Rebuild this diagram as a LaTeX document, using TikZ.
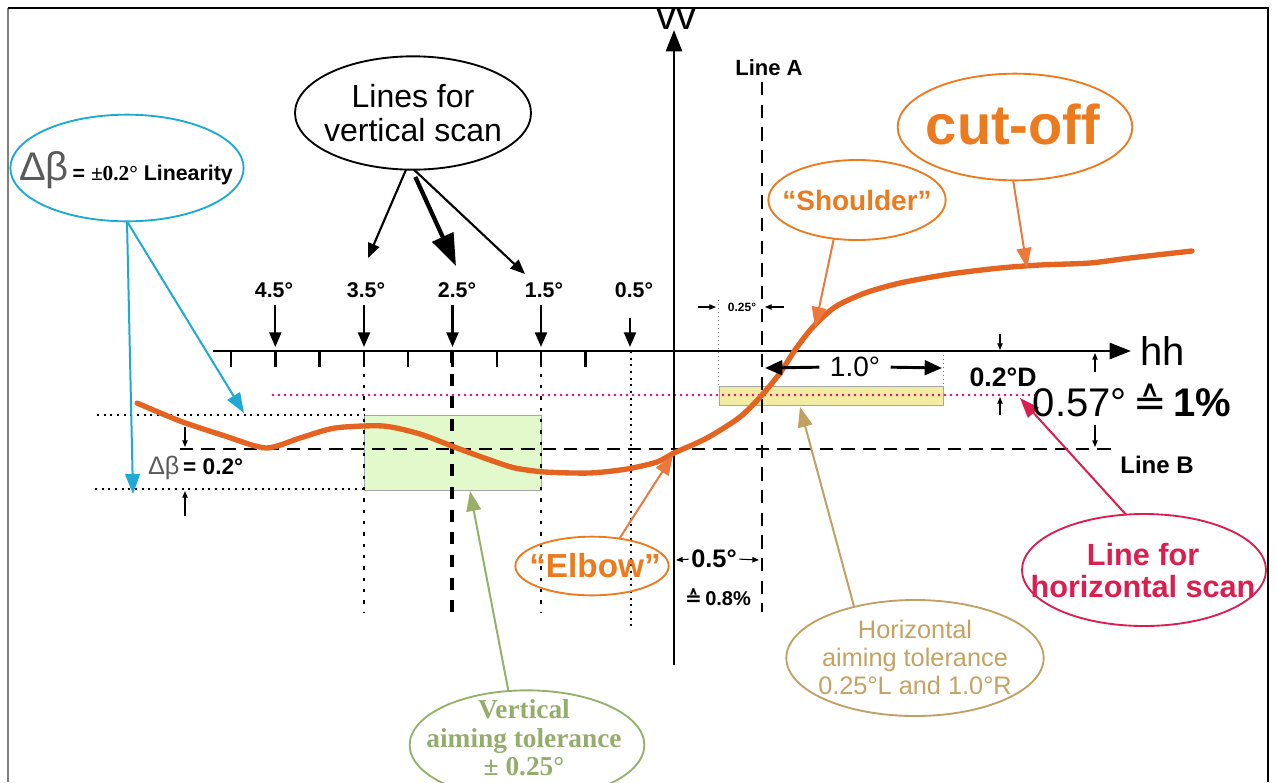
\documentclass[tikz,border=0pt]{standalone}
\usepackage{fontspec}
\setmainfont{Liberation Sans}
\newfontfamily\serifface{Liberation Serif}
\newfontfamily\dvface{DejaVu Sans}
\usetikzlibrary{arrows.meta,shapes.geometric}
\newcommand\fsz[2]{\fontsize{#1}{#2}\selectfont}
\definecolor{curveor}{RGB}{228,99,32}
\definecolor{txtor}{RGB}{236,122,30}
\definecolor{arror}{RGB}{236,120,60}
\definecolor{cyanb}{RGB}{30,170,212}
\definecolor{greenb}{RGB}{150,176,106}
\definecolor{greentxt}{RGB}{148,172,108}
\definecolor{greenfill}{RGB}{226,250,203}
\definecolor{tanb}{RGB}{192,161,99}
\definecolor{tantxt}{RGB}{196,162,98}
\definecolor{crim}{RGB}{218,30,80}
\definecolor{mag}{RGB}{229,0,125}
\definecolor{yelfill}{RGB}{242,236,162}
\definecolor{dbgray}{RGB}{90,90,90}
\begin{document}
\begin{tikzpicture}[x=0.75pt,y=-0.75pt,
  every node/.style={inner sep=0pt, outer sep=0pt},
  bubble/.style={ellipse, draw, line width=1.4pt, inner sep=0pt},
  blk/.style={-{Triangle[length=11pt,width=9pt]}, line width=1.6pt},
  sml/.style={-{Triangle[length=5pt,width=4pt]}, line width=0.8pt},
  axisline/.style={line width=2pt, -{Triangle[length=16pt,width=12pt]}},
  callout/.style={line width=1.5pt, -{Triangle[length=15pt,width=11pt]}},
  fdot/.style={line width=1.1pt, dash pattern=on 1.5pt off 3.5pt},
  vdot/.style={line width=2pt, dash pattern=on 2.5pt off 6pt},
  degl/.style={font=\bfseries\fsz{16}{16}},
]
\useasboundingbox (0,0) rectangle (1276,782);

% frame
\coordinate (f1) at (8,782); \coordinate (f2) at (8,8);
\coordinate (f3) at (1268,8); \coordinate (f4) at (1268,782);
\draw[line width=1.5pt, gray] (f1) -- (f2);
\draw[line width=1.3pt] (f2) -- (f3) -- (f4);

% tolerance boxes
\fill[greenfill] (364,415) rectangle (541,490);
\draw[line width=0.6pt, gray!70] (364,415) rectangle (541,490);
\fill[yelfill] (719,386) rectangle (943,405);
\draw[line width=0.6pt, gray!70] (719,386) rectangle (943,405);

% delta beta dotted limits
\draw[fdot] (97,415) -- (364,415);
\draw[fdot] (95,489) -- (364,489);

% magenta dotted horizontal scan line
\draw[mag, line width=2.2pt, line cap=round, dash pattern=on 0pt off 4.5pt] (273,395) -- (1040,395);

% vertical scan lines
\draw[vdot] (364,351) -- (364,612);
\draw[line width=3.2pt, dash pattern=on 9pt off 8pt] (452,351) -- (452,612);
\draw[vdot] (541,351) -- (541,612);
\draw[line width=1pt, dash pattern=on 1.5pt off 3.5pt] (631,351) -- (631,628);
\draw[line width=0.7pt, gray, dash pattern=on 1pt off 2pt] (718,300) -- (718,386);
\draw[line width=0.7pt, gray, dash pattern=on 1pt off 2pt] (943,351) -- (943,386);

% Line A, Line B
\draw[line width=2pt, dash pattern=on 10pt off 7pt] (762,82) -- (762,612);
\draw[line width=2pt, dash pattern=on 10pt off 6pt] (180,449) -- (1118,449);

% axes
\coordinate (hs) at (213,351); \coordinate (he) at (1131,351);
\coordinate (vs) at (674,665); \coordinate (ve) at (674,30);
\draw[axisline] (hs) -- (he);
\draw[axisline] (vs) -- (ve);
\foreach \x in {231,275.3,319.6,364,408.2,452.5,496.8,541,585.4}
  \draw[line width=1.8pt] (\x,351) -- (\x,367);

% beam curve
\draw[curveor, line width=4pt, line join=round, line cap=round]
  plot[smooth, tension=0.45] coordinates {(137,403) (180,421) (225,436) (266,448) (300,438) (335,428) (383,426) (420,434) (457,448) (490,460) (515,468) (545,472) (590,473) (627,469) (657,462) (674,453) (707,438) (740,417) (762,395) (780,373) (795,350) (812,328) (835,307) (865,293) (900,283) (950,274) (1000,268) (1040,265) (1090,263) (1130,258) (1192,251)};

% axis labels
\node[font=\fsz{30}{30}, anchor=base west] (hh) at (1140,365) {hh};
\node[font=\fsz{30}{30}, anchor=base] (vv) at (676,29) {vv};
\node[font=\bfseries\fsz{16.5}{16.5}] (lineA) at (769,68) {Line A};
\node[font=\bfseries\fsz{18}{18}] (lineB) at (1157,465) {Line B};

% degree labels and arrows
\node[degl] (l45) at (274,290) {4.5°};
\node[degl] (l35) at (366,290) {3.5°};
\node[degl] (l25) at (457,290) {2.5°};
\node[degl] (l15) at (544,290) {1.5°};
\node[degl] (l05) at (634,290) {0.5°};
\coordinate (a45) at (275.3,347); \coordinate (a35) at (364,347);
\coordinate (a25) at (452.5,347); \coordinate (a15) at (541,347);
\coordinate (a05) at (630,347);
\coordinate (s45) at (275.3,305); \coordinate (s35) at (364,305);
\coordinate (s25) at (452.5,305); \coordinate (s15) at (541,305);
\coordinate (s05) at (630,318);
\foreach \n in {45,35,25,15,05} \draw[blk] (s\n) -- (a\n);

% Lines for vertical scan
\node[bubble, minimum width=177pt, minimum height=85pt] (lines) at (413,113) {};
\node[font=\fsz{24}{25}, align=center] (linesT) at (lines) {Lines for\\vertical scan};
\coordinate (t35) at (368,258); \coordinate (t25) at (456,266); \coordinate (t15) at (525,274);
\draw[blk] (lines.-97) -- (t35);
\draw[line width=3.2pt, -{Triangle[length=24pt,width=17pt]}, shorten <=6pt] (lines.-91) -- (t25);
\draw[blk] (lines.-89) -- (t15);

% Linearity
\node[bubble, draw=cyanb, minimum width=175pt, minimum height=80pt] (lin) at (127,168) {};
\node (linT) at (126,170) {{\color{dbgray}\fsz{30}{30}Δβ} {\bfseries\fsz{16}{16}= {\serifface ±0.2°} Linearity}};
\coordinate (cy1) at (133,494); \coordinate (cy2) at (244,413);
\draw[callout, cyanb] (lin.south) -- (cy1);
\draw[callout, cyanb] (lin.south) -- (cy2);

% delta beta = 0.2
\node[anchor=west] (db) at (148,468) {{\color{dbgray}\fsz{19}{19}Δβ} {\bfseries\fsz{17}{17}= 0.2°}};
\coordinate (dbA1) at (185,427); \coordinate (dbA2) at (185,447);
\coordinate (dbB1) at (185,516); \coordinate (dbB2) at (185,491);
\draw[sml] (dbA1) -- (dbA2);
\draw[sml] (dbB1) -- (dbB2);

% Shoulder
\node[bubble, draw=txtor, minimum width=133pt, minimum height=60pt] (sh) at (857,200) {};
\node[text=txtor, font=\bfseries\fsz{21}{21}] (shT) at (sh) {“Shoulder”};
\coordinate (shE) at (815,327);
\draw[callout, arror] (sh.-121) -- (shE);

% cut-off
\node[bubble, draw=txtor, minimum width=176pt, minimum height=80pt] (cut) at (1015,127) {};
\node[text=txtor, font=\bfseries\fsz{42}{42}] (cutT) at (1013,124) {cut-off};
\coordinate (cutE) at (1027,268);
\draw[callout, arror] (cut.-92) -- (cutE);

% Elbow
\node[bubble, draw=txtor, minimum width=115pt, minimum height=44pt] (elbow) at (592,566) {};
\node[text=txtor, font=\bfseries\fsz{25}{25}] (elbowT) at (595,566) {“Elbow”};
\coordinate (elE) at (673,455);
\draw[callout, arror] (elbow.45) -- (elE);

% Vertical aiming tolerance
\node[bubble, draw=greenb, minimum width=176pt, minimum height=82pt] (vat) at (527,745) {};
\node[text=greentxt, font=\serifface\bfseries\fsz{20.5}{21.5}, align=center] (vatT) at (524,738) {Vertical\\aiming tolerance\\± 0.25°};
\coordinate (vatE) at (470,491);
\draw[callout, greenb] (vat.109) -- (vatE);

% Horizontal aiming tolerance
\node[bubble, draw=tanb, minimum width=193pt, minimum height=87pt] (hat) at (915,658) {};
\node[text=tantxt, font=\fsz{19}{21}, align=center] (hatT) at (915,657) {Horizontal\\aiming tolerance\\0.25°L and 1.0°R};
\coordinate (hatE) at (800,407);
\draw[callout, tanb] (hat.140) -- (hatE);

% Line for horizontal scan
\node[bubble, draw=crim, minimum width=183pt, minimum height=84pt] (lhs) at (1144,570) {};
\node[text=crim, font=\bfseries\fsz{23}{24}, align=center] (lhsT) at (1143,571) {Line for\\horizontal scan};
\coordinate (lhsE) at (1020,398);
\draw[callout, crim] (lhs.108) -- (lhsE);

% 0.25 deg
\node[font=\bfseries\fsz{9}{9}] (q25) at (742,307) {0.25°};
\coordinate (q1) at (698,307); \coordinate (q2) at (716,307);
\coordinate (q3) at (784,307); \coordinate (q4) at (765,307);
\draw[sml] (q1) -- (q2);
\draw[sml] (q3) -- (q4);

% 1.0 deg
\node[font=\fsz{21}{21}] (one) at (855,367) {1.0°};
\coordinate (oneL) at (765,368); \coordinate (oneR) at (942,368);
\draw[line width=2.2pt, -{Triangle[length=13pt,width=11pt]}, shorten <=8pt] (one.west) -- (oneL);
\draw[line width=2.2pt, -{Triangle[length=13pt,width=11pt]}, shorten <=8pt] (one.east) -- (oneR);

% 0.2 D
\node[font=\bfseries\fsz{20}{20}] (d02) at (1003,377) {0.2°D};
\coordinate (dA1) at (1000,334); \coordinate (dA2) at (1000,350);
\coordinate (dB1) at (1000,415); \coordinate (dB2) at (1000,397);
\draw[sml] (dA1) -- (dA2);
\draw[sml] (dB1) -- (dB2);

% 0.57 deg = 1%
\node[font=\fsz{30}{30}] (d057) at (1132,400) {0.57°\,{\dvface ≙}\,\textbf{1\%}};
\coordinate (eA1) at (1095,372); \coordinate (eA2) at (1095,353);
\coordinate (eB1) at (1095,425); \coordinate (eB2) at (1095,447);
\draw[sml] (eA1) -- (eA2);
\draw[sml] (eB1) -- (eB2);

% 0.5 deg = 0.8%
\node[font=\bfseries\fsz{19}{19}] (h05) at (714,559) {0.5°};
\node[font=\bfseries\fsz{15}{15}] (h08) at (718,597) {{\dvface ≙}\,0.8\%};
\coordinate (hL) at (676,560); \coordinate (hR) at (759,560);
\draw[sml, shorten <=2pt] (h05.west) -- (hL);
\draw[sml, shorten <=2pt] (h05.east) -- (hR);
\end{tikzpicture}
\end{document}
